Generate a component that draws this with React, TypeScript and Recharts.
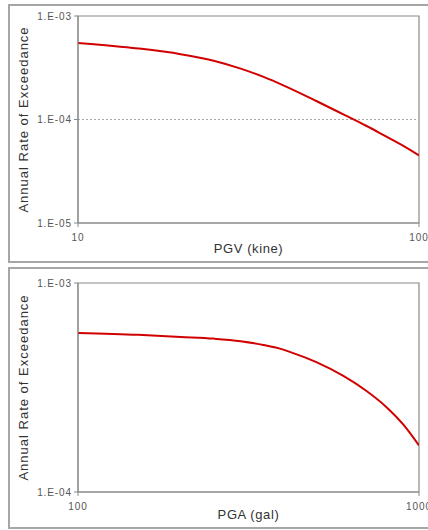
import React from 'react';
import { LineChart, Line, XAxis, YAxis, ReferenceArea, ReferenceLine } from 'recharts';

// PGV hazard curve (kine vs annual rate of exceedance)
const pgvValues = [10, 15, 20, 25, 30, 35, 40, 50, 60, 70, 80, 90, 100];
const pgvRates = [5.5e-4, 4.86e-4, 4.28e-4, 3.7e-4, 3.1e-4, 2.58e-4, 2.14e-4, 1.51e-4, 1.12e-4, 8.7e-5, 6.87e-5, 5.57e-5, 4.5e-5];

// PGA hazard curve (gal vs annual rate of exceedance)
const pgaValues = [100, 150, 200, 250, 300, 350, 400, 450, 500, 600, 700, 800, 900, 1000];
const pgaRates = [5.77e-4, 5.65e-4, 5.52e-4, 5.42e-4, 5.27e-4, 5.05e-4, 4.8e-4, 4.48e-4, 4.18e-4, 3.59e-4, 3.05e-4, 2.56e-4, 2.1e-4, 1.67e-4];

const pgvTicks = [10, 100];
const pgvRateTicks = [1e-5, 1e-4, 1e-3];
const pgaTicks = [100, 1000];
const pgaRateTicks = [1e-4, 1e-3];

const FONT = '"Liberation Sans", Arial, sans-serif';
const AXIS = '#8a8a8a';
const RED = '#d10000';

const fmtRate = (v: number) => {
  const exp = Math.round(Math.log10(v));
  return `1.E-${String(-exp).padStart(2, '0')}`;
};

const tickStyle = { fontSize: 10, fill: '#555', fontFamily: FONT, letterSpacing: 0.9 };

interface HazardProps {
  xs: number[];
  ys: number[];
  xTicks: number[];
  yTicks: number[];
  xTitle: string;
  height: number;
  top: number;
  xAxisHeight: number;
  titleOffset: number;
}

const HazardChart = ({ xs, ys, xTicks, yTicks, xTitle, height, top, xAxisHeight, titleOffset }: HazardProps) => {
  const data = xs.map((x, i) => ({ x, rate: ys[i] }));
  const xDom = [xTicks[0], xTicks[xTicks.length - 1]];
  const yDom = [yTicks[0], yTicks[yTicks.length - 1]];
  // dotted gridlines only between the frame edges
  const inner = yTicks.slice(1, -1);
  return (
    <LineChart width={430} height={height} data={data} margin={{ top, right: 19, bottom: 0, left: 0 }}>
      <ReferenceArea x1={xDom[0]} x2={xDom[1]} y1={yDom[0]} y2={yDom[1]} fill="none" stroke={AXIS} strokeWidth={1.2} />
      {inner.map((t) => (
        <ReferenceLine key={t} y={t} stroke="#a8a8a8" strokeDasharray="2 2" />
      ))}
      <XAxis
        dataKey="x"
        type="number"
        scale="log"
        domain={xDom}
        ticks={xTicks}
        allowDataOverflow
        height={xAxisHeight}
        tickSize={4}
        tickMargin={7}
        stroke={AXIS}
        tick={tickStyle}
        label={{
          value: xTitle,
          position: 'insideBottom',
          offset: titleOffset,
          style: { fontSize: 13, fill: '#333', fontFamily: FONT, letterSpacing: 0.6 },
        }}
      />
      <YAxis
        type="number"
        scale="log"
        domain={yDom}
        ticks={yTicks}
        allowDataOverflow
        width={70}
        tickSize={4}
        tickMargin={2}
        stroke={AXIS}
        tickFormatter={fmtRate}
        tick={tickStyle}
        label={{
          value: 'Annual Rate of Exceedance',
          angle: -90,
          position: 'insideLeft',
          offset: 15,
          style: { textAnchor: 'middle', fontSize: 13, fill: '#333', fontFamily: FONT, letterSpacing: 1 },
        }}
      />
      <Line type="monotone" dataKey="rate" stroke={RED} strokeWidth={2} dot={false} isAnimationActive={false} />
    </LineChart>
  );
};

const panel = (top: number, height: number): React.CSSProperties => ({
  position: 'absolute',
  left: 8,
  top,
  width: 440,
  height,
  border: '2px solid #a6a6a6',
  boxSizing: 'border-box',
});

export default function App() {
  return (
    <div style={{ position: 'fixed', left: 0, top: 0, width: 428, height: 530, overflow: 'hidden', background: '#fff' }}>
      <div style={panel(4, 259)} />
      <div style={panel(267, 262)} />
      <div style={{ position: 'absolute', left: 8, top: 5 }}>
        <HazardChart
          xs={pgvValues}
          ys={pgvRates}
          xTicks={pgvTicks}
          yTicks={pgvRateTicks}
          xTitle="PGV (kine)"
          height={257}
          top={11}
          xAxisHeight={39}
          titleOffset={9}
        />
      </div>
      <div style={{ position: 'absolute', left: 8, top: 268 }}>
        <HazardChart
          xs={pgaValues}
          ys={pgaRates}
          xTicks={pgaTicks}
          yTicks={pgaRateTicks}
          xTitle="PGA (gal)"
          height={260}
          top={15}
          xAxisHeight={36}
          titleOffset={9}
        />
      </div>
    </div>
  );
}
